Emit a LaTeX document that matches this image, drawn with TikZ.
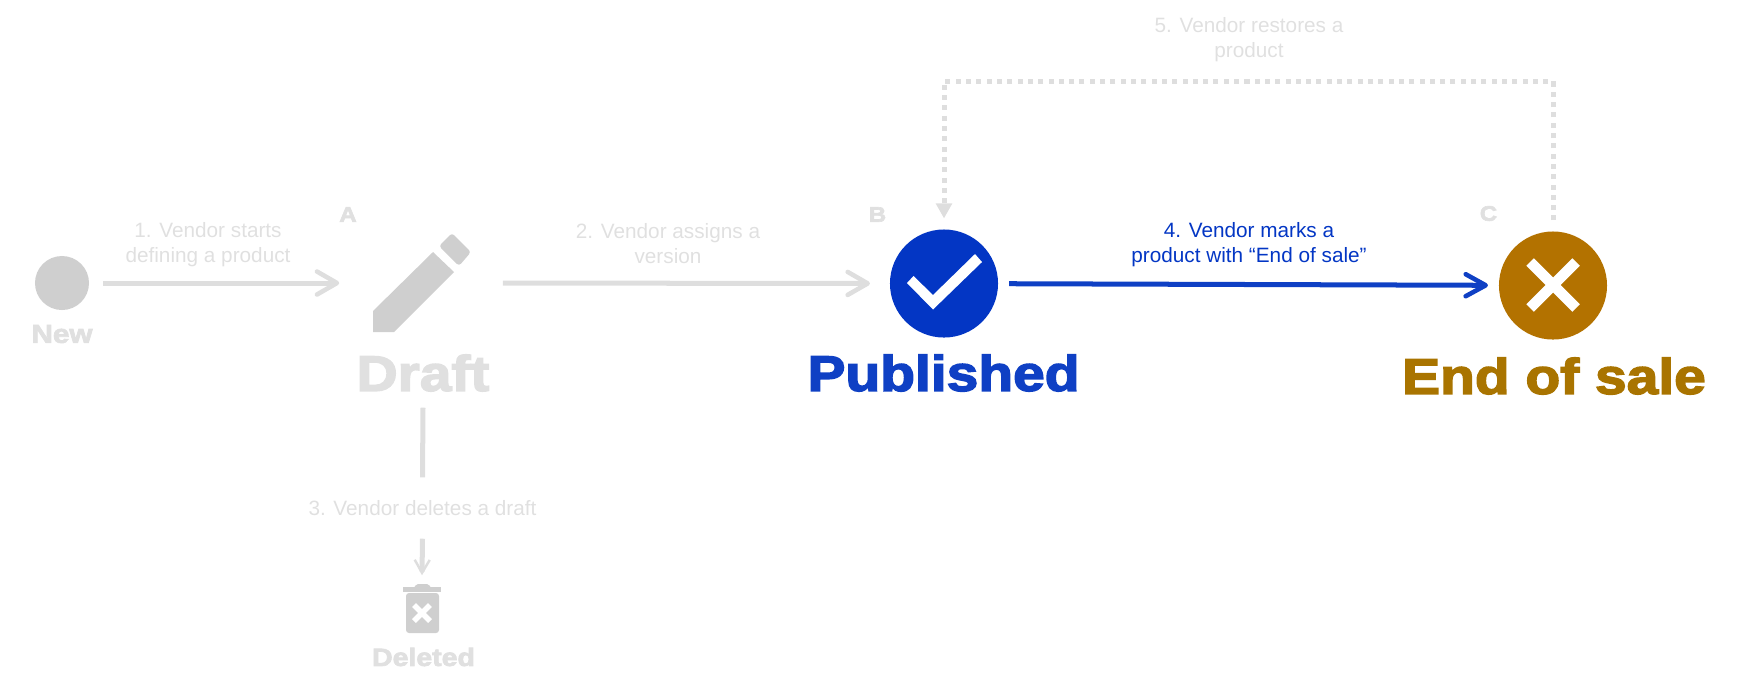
\documentclass[tikz,border=0pt]{standalone}
\usepackage{fontspec}
\usepackage{tikz}
\usetikzlibrary{positioning, arrows.meta}
\setmainfont{Liberation Sans}
\newfontfamily\blackFont{Liberation Sans}[UprightFont=* Bold, FakeBold=3, FakeStretch=1.14]
\definecolor{fadedText}{HTML}{E0E0E0}
\definecolor{fadedLine}{HTML}{DEDEDE}
\definecolor{fadedIcon}{HTML}{CFCFCF}
\definecolor{publishedColor}{HTML}{0336C4}
\definecolor{publishedText}{HTML}{0F40C4}
\definecolor{saleColor}{HTML}{B37200}
\definecolor{saleText}{HTML}{A97400}
\tikzstyle{diagram} = [x = .01cm, y = -.01cm]
\tikzstyle{stepText} = [color=fadedText, align=center, inner sep=0, font=\fontsize{5.9}{7.1}\selectfont]
\tikzstyle{letterText} = [color=fadedText, inner sep=0, font=\blackFont\fontsize{6}{6}\selectfont]
\tikzstyle{stateBall} = [circle, minimum size=1.08cm, inner sep=0, outer sep=.11cm]
\tikzstyle{iconBox} = [inner sep=0]
\tikzstyle{stepLine} = [color=fadedLine, line width=.05cm]
\tikzstyle{stepArrow} = [stepLine, -{Straight Barb[length=.2cm, width=.23cm, line width=1.3pt, round]}]
\tikzstyle{smallArrow} = [stepLine, -{Straight Barb[length=.13cm, width=.15cm, line width=.7pt]}]
\tikzstyle{saleArrow} = [color=publishedText, line width=.05cm, -{Straight Barb[length=.2cm, width=.22cm, line width=1.3pt, round]}]
\tikzstyle{restoreArrow} = [stepLine, dash pattern=on .05cm off .053cm, -{Triangle[length=.15cm, width=.155cm]}]
\newcommand{\stateName}[5]{\node [inner sep=0, minimum height=#5, color=#4, font=\blackFont\fontsize{#3}{#3}\selectfont] (#1) at (#2) {#1};}
\begin{document}
\begin{tikzpicture}[diagram]
  \useasboundingbox (0,0) rectangle (1745,693);
  % states
  \node [stateBall, fill=fadedIcon, minimum size=.54cm, outer sep=.14cm] (new) at (62,283) {};
  \node [iconBox, minimum width=1.62cm, minimum height=1cm] (draft) at (421,283) {};
  \fill [fadedIcon] (373,311) -- (373,332) -- (394,332) -- (454,272) -- (433,252) -- cycle;
  \fill [fadedIcon, rounded corners=.03cm] (439,246) -- (452,233) -- (471,252) -- (459,266) -- cycle;
  \node [stateBall, fill=publishedColor] (published) at (944,283.5) {};
  \fill [white] (907,283) -- (913.5,276) -- (933,295) -- (975,254) -- (982,262) -- (933,309.5) -- cycle;
  \node [stateBall, fill=saleColor] (sale) at (1553,285.5) {};
  \draw [white, line width=.106cm] (1530,262) -- (1576,308) (1576,262) -- (1530,308);
  \node [iconBox, minimum width=.4cm, minimum height=.65cm] (trash) at (422,608.5) {};
  \fill [fadedIcon] (403,587) rectangle (441,592);
  \fill [fadedIcon, rounded corners=.02cm] (413,590) -- (416,584) -- (429,584) -- (432,590) -- cycle;
  \fill [fadedIcon, rounded corners=.03cm] (406,593) -- (439,593) -- (439,633) -- (406,633) -- cycle;
  \draw [white, line width=.055cm] (414,605) -- (430,621) (430,605) -- (414,621);
  % state names
  \node [inner sep=0, color=fadedText, font=\blackFont\fontsize{7.4}{7.4}\selectfont] (newName) at (62,334) {New};
  \stateName{Draft}{423,373}{14.2}{fadedText}{.68cm}
  \stateName{Published}{943.5,373}{14.2}{publishedText}{.68cm}
  \node [inner sep=0, color=saleText, font=\blackFont\fontsize{14.2}{14.2}\selectfont] (saleName) at (1554,376) {End of sale};
  \node [inner sep=0, color=fadedText, font=\blackFont\fontsize{7.1}{7.1}\selectfont] (deletedName) at (423.5,657) {Deleted};
  % letters
  \node [letterText] (letterA) at (348,214.5) {A};
  \node [letterText] (letterB) at (877.5,214.5) {B};
  \node [letterText] (letterC) at (1488.5,213.5) {C};
  % step labels
  \node [stepText] (startLabel) at (208,245) {1. Vendor starts\\defining a product};
  \node [stepText] (assignLabel) at (668,244) {2. Vendor assigns a\\version};
  \node [stepText, minimum height=.6cm] (deleteLabel) at (422.5,508) {3. Vendor deletes a draft};
  \node [stepText, color=publishedColor] (marksLabel) at (1249,245) {4. Vendor marks a\\product with “End of sale”};
  \node [stepText] (restoreLabel) at (1249,40) {5. Vendor restores a\\product};
  % connectors
  \coordinate (restoreTop) at (1249,81);
  \draw [stepArrow] (new) -- (draft);
  \draw [stepArrow, shorten >=.09cm] (draft) -- (published);
  \draw [stepLine] (Draft.south) -- (deleteLabel.north);
  \draw [smallArrow] (deleteLabel.south) -- (trash.north);
  \draw [saleArrow] (published) -- (sale);
  \draw [restoreArrow] (sale.north) |- (restoreTop) -| (published.north);
\end{tikzpicture}
\end{document}
